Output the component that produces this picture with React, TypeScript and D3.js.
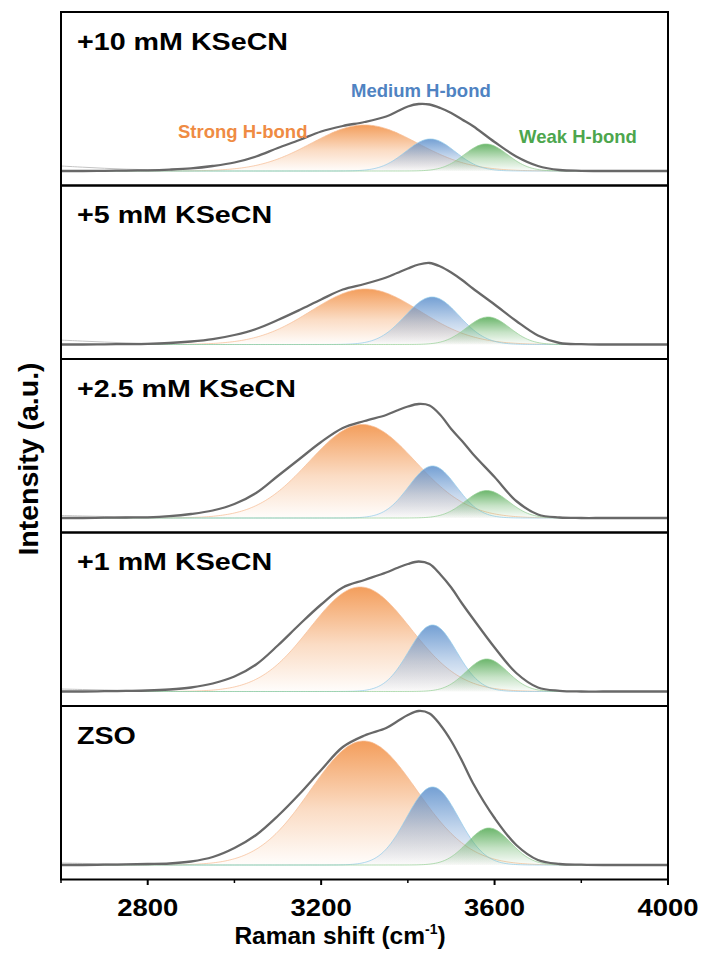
import React from 'react';
import * as d3 from 'd3';

// Raman shift grid (cm-1) for the measured envelope
const shifts = [2600, 2650, 2700, 2750, 2800, 2850, 2900, 2950, 3000, 3050, 3100, 3150, 3200, 3250, 3300, 3350, 3375, 3400, 3425, 3450, 3475, 3500, 3525, 3550, 3600, 3650, 3700, 3750, 3800, 3850, 3900, 3950, 4000];

const panelLabels = ['+10 mM KSeCN', '+5 mM KSeCN', '+2.5 mM KSeCN', '+1 mM KSeCN', 'ZSO'];

// Total (measured) O-H stretching envelope, one per panel (a.u.)
const envelope10 = [0, 0, 0.2, 0.4, 0.7, 1.4, 2.6, 5, 8.5, 14.5, 23, 31, 39.5, 45, 49, 54.5, 59.5, 64.5, 67, 66.5, 63, 58, 51.5, 45, 29, 14.5, 5, 1, 0.2, 0, 0, 0, 0];
const envelope5 = [0, 0, 0.2, 0.4, 0.7, 1.5, 3, 5.4, 9.5, 15.5, 24.5, 34.5, 45, 55, 60.5, 67, 71.5, 76, 80, 81.5, 78, 72, 64.5, 56, 40, 23.5, 9, 1.5, 0.3, 0, 0, 0, 0];
const envelope25 = [0, 0, 0.3, 0.5, 0.7, 1.8, 4, 7.5, 14, 25, 42, 59, 76, 90, 97, 103, 107.5, 111.5, 114, 112.5, 103, 89, 77, 64, 41, 17, 3.5, 0.5, 0, 0, 0, 0, 0];
const envelope1 = [0, 0, 0.3, 0.6, 1, 2, 4, 8, 15, 27, 46, 67, 87, 104, 111.5, 119, 123.5, 127.5, 130, 127.5, 117, 104, 88, 73, 44, 18.5, 4, 0.7, 0, 0, 0, 0, 0];
const envelopeZSO = [0, 0, 0.3, 0.6, 1, 1.5, 3.5, 8, 17, 30, 49, 71, 95, 118, 129.5, 137, 143.5, 150, 154, 151.5, 140, 124, 104, 82, 47, 20, 5, 1, 0.3, 0, 0, 0, 0];
const envelopes = [envelope10, envelope5, envelope25, envelope1, envelopeZSO];

// raw spectrum at the low-wavenumber end (slightly above the fit)
const rawShifts = [2600, 2650, 2700, 2750, 2800, 2850];
const raw10 = [5, 3.8, 2.7, 1.8, 1.1, 1.4];
const raw5 = [4.4, 3.4, 2.4, 1.6, 1, 1.5];
const raw25 = [2.5, 2, 1.5, 1.1, 0.8, 1.8];
const raw1 = [2.5, 2, 1.5, 1.1, 1, 2];
const rawZSO = [2, 1.6, 1.2, 0.9, 1, 1.5];
const raws = [raw10, raw5, raw25, raw1, rawZSO];

// Fitted Gaussian components: centre (cm-1), height (a.u.), sigma (cm-1)
const strongCenter = [3300, 3302, 3295, 3290, 3298];
const strongHeight = [46, 55.5, 93.5, 104.5, 124];
const strongSigma = [122, 125, 122, 116, 122];
const mediumCenter = [3452, 3456, 3457, 3457, 3457];
const mediumHeight = [32, 47.5, 52, 66.5, 78];
const mediumSigma = [57, 62, 55, 55, 60];
const weakCenter = [3580, 3585, 3582, 3582, 3587];
const weakHeight = [27, 27.5, 27.5, 32.5, 37];
const weakSigma = [50, 50, 50, 48, 50];

const majorTicks = [2800, 3200, 3600, 4000];
const minorTicks = [2600, 3000, 3400, 3800];

const W = 705;
const H = 962;
const left = 61;
const right = 668;
const top0 = 12;
const panelH = 173.5;
const baseOffset = 14.5;
const FONT = '"Liberation Sans", Arial, Helvetica, sans-serif';

const x = d3.scaleLinear().domain([2600, 4000]).range([left, right]);
const fineGrid = d3.range(2600, 4000.1, 4);

function gaussianShape(center: number, height: number, sigma: number) {
  return fineGrid.map((s) => [s, height * Math.exp(-0.5 * ((s - center) / sigma) ** 2)] as [number, number]);
}

const comps = [
  { key: 'strong', color: '#F39B57', edge: '#F7BC94', center: strongCenter, height: strongHeight, sigma: strongSigma, topOp: 0.97 },
  { key: 'medium', color: '#5C8FCC', edge: '#93CBEA', center: mediumCenter, height: mediumHeight, sigma: mediumSigma, topOp: 0.85 },
  { key: 'weak', color: '#5BAE5B', edge: '#96D096', center: weakCenter, height: weakHeight, sigma: weakSigma, topOp: 0.9 },
];

export default function App() {
  return (
    <svg width={W} height={H} style={{ position: 'absolute', left: 0, top: 0, background: '#fff' }} fontFamily={FONT}>
      <defs>
        {comps.map((c) => (
          <linearGradient key={c.key} id={`g-${c.key}`} x1="0" y1="0" x2="0" y2="1">
            <stop offset="0" stopColor={c.color} stopOpacity={c.topOp} />
            <stop offset="0.55" stopColor={c.color} stopOpacity={0.35} />
            <stop offset="1" stopColor={c.color} stopOpacity={0.02} />
          </linearGradient>
        ))}
        <clipPath id="plotClip">
          <rect x={left} y={top0} width={right - left} height={panelH * 5} />
        </clipPath>
      </defs>
      <rect x={0} y={0} width={W} height={H} fill="#fff" />
      {envelopes.map((env, i) => {
        const pTop = top0 + i * panelH;
        const pBottom = pTop + panelH;
        const y = d3.scaleLinear().domain([0, panelH - baseOffset]).range([pBottom - baseOffset, pTop]);
        const line = d3.line<[number, number]>().x((d) => x(d[0])).y((d) => y(d[1])).curve(d3.curveMonotoneX);
        const envLine = d3.line<[number, number]>().x((d) => x(d[0])).y((d) => y(d[1])).curve(d3.curveCatmullRom.alpha(0.5));
        const area = d3
          .area<[number, number]>()
          .x((d) => x(d[0]))
          .y0(y(0))
          .y1((d) => y(d[1]))
          .curve(d3.curveMonotoneX);
        const envPts = shifts.map((s, k) => [s, env[k]] as [number, number]);
        const rawPts = rawShifts.map((s, k) => [s, raws[i][k]] as [number, number]);
        return (
          <g key={i} clipPath="url(#plotClip)">
            {comps.map((c) => {
              const pts = gaussianShape(c.center[i], c.height[i], c.sigma[i]);
              return (
                <g key={c.key}>
                  <path d={area(pts) || ''} fill={`url(#g-${c.key})`} />
                  <path d={line(pts) || ''} fill="none" stroke={c.edge} strokeWidth={0.9} opacity={0.8} />
                </g>
              );
            })}
            <path d={d3.line<[number, number]>().x((d) => x(d[0])).y((d) => y(d[1])).curve(d3.curveBasis)(rawPts) || ''} fill="none" stroke="#c4c4c4" strokeWidth={1} />
            <path d={envLine(envPts) || ''} fill="none" stroke="#686868" strokeWidth={2.3} strokeLinejoin="round" />
          </g>
        );
      })}
      {envelopes.map((_, i) => {
        const pTop = top0 + i * panelH;
        return (
          <g key={`f${i}`}>
            <rect x={left} y={pTop} width={right - left} height={panelH} fill="none" stroke="#000" strokeWidth={2} />
            <text
              transform={`translate(77, ${pTop + 37.5}) scale(1.17, 1)`}
              fontSize={24.5}
              fontWeight="bold"
              fill="#000"
            >
              {panelLabels[i]}
            </text>
          </g>
        );
      })}
      <text x={178} y={138} fontSize={18.5} fontWeight="bold" fill="#EF8B43">Strong H-bond</text>
      <text x={351} y={96.5} fontSize={18.5} fontWeight="bold" fill="#4F83C2">Medium H-bond</text>
      <text x={519} y={142.5} fontSize={18.5} fontWeight="bold" fill="#4DA64D">Weak H-bond</text>
      {(() => {
        const axisY = top0 + panelH * 5;
        return (
          <g>
            {majorTicks.map((t) => (
              <g key={`M${t}`}>
                <line x1={x(t)} x2={x(t)} y1={axisY} y2={axisY + 5.5} stroke="#000" strokeWidth={2} />
                <text transform={`translate(${x(t)}, ${axisY + 36.5}) scale(1.17, 1)`} textAnchor="middle" fontSize={23.5} fontWeight="bold" fill="#000">
                  {d3.format('d')(t)}
                </text>
              </g>
            ))}
            {minorTicks.map((t) => (
              <line key={`m${t}`} x1={x(t)} x2={x(t)} y1={axisY} y2={axisY + 3.5} stroke="#000" strokeWidth={1.5} />
            ))}
            <text x={340} y={944} textAnchor="middle" fontSize={24.5} fontWeight="bold" fill="#000">
              Raman shift (cm
              <tspan fontSize={14} dy={-10}>-1</tspan>
              <tspan dy={10}>)</tspan>
            </text>
          </g>
        );
      })()}
      <text transform={`translate(38, 459) rotate(-90)`} textAnchor="middle" fontSize={28.5} fontWeight="bold" fill="#000">
        Intensity (a.u.)
      </text>
    </svg>
  );
}
